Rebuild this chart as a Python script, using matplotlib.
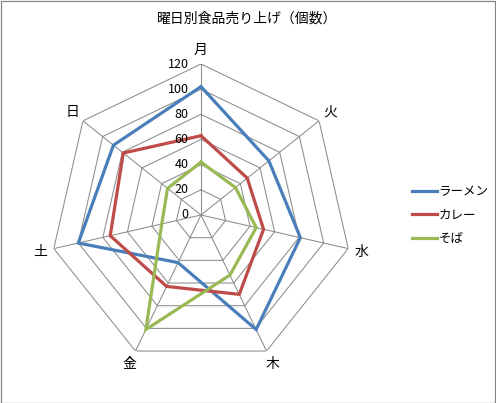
import numpy as np
import matplotlib
matplotlib.use("Agg")
import matplotlib.pyplot as plt
from matplotlib.patches import Rectangle

plt.rcParams['font.family'] = ['Noto Sans CJK JP', 'DejaVu Sans']

title = "曜日別食品売り上げ（個数）"
categories = ["月", "火", "水", "木", "金", "土", "日"]
series_names = ["ラーメン", "カレー", "そば"]
ramen = [102, 69, 81, 101, 42, 100, 89]
curry = [63, 47, 51, 70, 63, 74, 79]
soba = [42, 35, 45, 53, 101, 32, 34]
ticks = [0, 20, 40, 60, 80, 100, 120]
colors = ["#4A7EBB", "#BE4B48", "#98B954"]

W, H = 496, 403
fig = plt.figure(figsize=(W / 100, H / 100), dpi=100)
fig.patches.append(Rectangle((0.5 / W, 0.5 / H), 1 - 1.5 / W, 1 - 1.5 / H,
                             transform=fig.transFigure, fill=False,
                             edgecolor="#868686", linewidth=0.9))

cx, cy, R = 201, 403 - 215, 151
ax = fig.add_axes([(cx - R) / W, (cy - R) / H, 2 * R / W, 2 * R / H],
                  projection='polar')
ax.set_theta_offset(np.pi / 2)
ax.set_theta_direction(-1)
ax.set_ylim(0, ticks[-1])
ax.grid(False)
ax.spines['polar'].set_visible(False)
ax.set_xticks([])
ax.set_yticks([])
ax.patch.set_alpha(0)

n = len(categories)
theta = np.arange(n) * 2 * np.pi / n
theta_c = np.append(theta, theta[0])

grid_col = "#8C8C8C"
for t in ticks[1:]:
    ax.plot(theta_c, [t] * (n + 1), color=grid_col, lw=0.75, zorder=1)
for th in theta:
    ax.plot([th, th], [0, ticks[-1]], color=grid_col, lw=0.75, zorder=1)

for name, vals, col in zip(series_names, [ramen, curry, soba], colors):
    v = np.append(vals, vals[0])
    ax.plot(theta_c, v, color=col, lw=2.3, label=name, zorder=3,
            solid_joinstyle='miter')

for th, lab in zip(theta, categories):
    ax.text(th, 131, lab, ha='center', va='center', fontsize=10)

for t in ticks:
    ax.annotate(str(t), xy=(0, t), xytext=(-9, 0), textcoords='offset points',
                ha='right', va='center', fontsize=9)

fig.text(247 / W, 1 - 19 / H, title, ha='center', va='center', fontsize=10)

fig.legend(loc='center left', bbox_to_anchor=(401 / W, 1 - 215 / H),
           frameon=False, fontsize=9, handlelength=2.0, handletextpad=0.1,
           labelspacing=0.85)

fig.savefig("out.png", dpi=100)
